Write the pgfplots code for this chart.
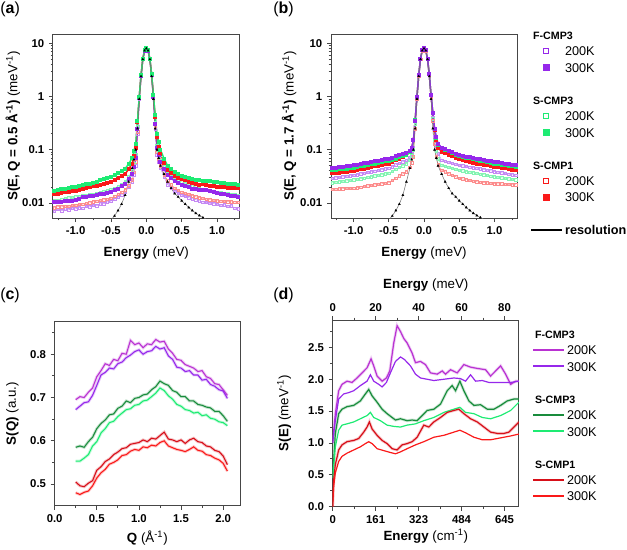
\documentclass[border=0pt]{standalone}
\usepackage{pgfplots}
\pgfplotsset{compat=1.18}
\usepackage{pgfplotstable}
\usepackage{fontspec}
\setmainfont{Liberation Sans}

\definecolor{fpur}{RGB}{150,40,235}
\definecolor{fmag}{RGB}{185,50,210}
\definecolor{sgrn}{RGB}{30,235,115}
\definecolor{sgrnD}{RGB}{25,140,60}
\definecolor{sred}{RGB}{250,25,25}
\definecolor{sredD}{RGB}{215,15,25}
\definecolor{axgray}{RGB}{70,70,70}

\pgfkeys{/pgf/number format/assume math mode=true}
\newcommand{\hd}[1]{\hspace*{-24pt}{\fontsize{8}{12.4}\selectfont\textbf{#1}}\strut}

\pgfplotsset{
  panel/.style={
    scale only axis,
    axis line style={draw=axgray, line width=0.75pt},
    tick align=outside,
    xtick pos=bottom, ytick pos=left,
    tick style={axgray, line width=0.6pt},
    major tick length=3pt, minor tick length=1.8pt,
    tick label style={font=\fontsize{8.5}{10}\selectfont\bfseries},
    label style={font=\fontsize{12}{14}\selectfont},
    every axis y label/.style={at={(axis description cs:-0.22,0.5)}, rotate=90, anchor=center},
    every axis x label/.style={at={(axis description cs:0.5,-0.19)}, anchor=center},
  },
  sqleg/.style={legend image code/.code={\draw[mark repeat=2,mark phase=2,##1] plot coordinates {(0pt,0pt) (11pt,0pt) (22pt,0pt)};}},
  lnleg/.style={legend image code/.code={\draw[##1] (0pt,0pt) -- (23pt,0pt);}},
  legsty/.style={legend cell align=left,
    legend style={draw=none, fill=none, anchor=north west, row sep=2pt, inner sep=0pt,
      font=\fontsize{9.5}{12.4}\selectfont, nodes={inner ysep=0pt, inner xsep=1.5pt, anchor=west}}},
  opn/.style={mark=square, mark size=0.95pt, line width=0.35pt},
  fil/.style={mark=square*, mark size=0.95pt, line width=1.1pt},
}

\pgfplotstableread{
E f2 f3 g2 g3 r2 r3
-1.30 0.0070 0.0102 0.0110 0.0170 0.0082 0.0145
-1.25 0.0076 0.0104 0.0113 0.0175 0.0085 0.0150
-1.20 0.0071 0.0106 0.0118 0.0180 0.0084 0.0155
-1.15 0.0077 0.0107 0.0121 0.0186 0.0087 0.0160
-1.10 0.0074 0.0108 0.0124 0.0190 0.0086 0.0163
-1.05 0.0080 0.0110 0.0127 0.0195 0.0090 0.0167
-1.00 0.0077 0.0112 0.0130 0.0200 0.0090 0.0170
-0.95 0.0082 0.0118 0.0133 0.0207 0.0094 0.0176
-0.90 0.0080 0.0130 0.0137 0.0215 0.0095 0.0182
-0.85 0.0086 0.0128 0.0140 0.0222 0.0099 0.0190
-0.80 0.0084 0.0132 0.0143 0.0230 0.0100 0.0197
-0.75 0.0090 0.0135 0.0147 0.0240 0.0105 0.0204
-0.70 0.0089 0.0140 0.0150 0.0250 0.0108 0.0210
-0.65 0.0096 0.0145 0.0156 0.0265 0.0112 0.0220
-0.60 0.0097 0.0150 0.0162 0.0280 0.0114 0.0230
-0.55 0.0105 0.0155 0.0168 0.0295 0.0118 0.0240
-0.50 0.0108 0.0162 0.0175 0.0310 0.0122 0.0250
-0.45 0.0118 0.0172 0.0190 0.0335 0.0133 0.0270
-0.40 0.0128 0.0185 0.0205 0.0360 0.0145 0.0290
-0.35 0.0142 0.0205 0.0225 0.0395 0.0158 0.0315
-0.30 0.0160 0.0230 0.0250 0.0440 0.0175 0.0350
-0.25 0.0198 0.0280 0.0310 0.0540 0.0210 0.0430
-0.20 0.0250 0.0350 0.0400 0.0700 0.0270 0.0550
-0.175 0.034 0.047 0.055 0.095 0.038 0.075
-0.15 0.050 0.070 0.080 0.130 0.060 0.110
-0.125 0.20 0.25 0.27 0.35 0.22 0.33
-0.10 0.92 0.95 0.95 1.0 0.93 0.98
-0.075 2.4 2.4 2.4 2.5 2.4 2.5
-0.05 5.0 5.0 5.0 5.1 5.0 5.1
-0.025 7.3 7.3 7.3 7.4 7.3 7.4
0 8.0 8.0 8.0 8.1 8.0 8.1
0.025 7.3 7.3 7.3 7.4 7.3 7.4
0.05 5.0 5.0 5.0 5.1 5.0 5.1
0.075 2.5 2.5 2.5 2.6 2.5 2.6
0.10 1.0 1.0 1.0 1.05 1.0 1.05
0.125 0.25 0.30 0.32 0.45 0.28 0.42
0.15 0.080 0.110 0.120 0.200 0.090 0.170
0.175 0.060 0.080 0.090 0.140 0.066 0.115
0.20 0.045 0.060 0.070 0.100 0.050 0.085
0.25 0.031 0.043 0.048 0.068 0.034 0.057
0.30 0.022 0.034 0.035 0.050 0.026 0.042
0.35 0.019 0.029 0.031 0.043 0.022 0.036
0.40 0.0165 0.026 0.028 0.038 0.019 0.032
0.45 0.0152 0.024 0.026 0.035 0.0172 0.030
0.50 0.0140 0.022 0.025 0.032 0.0160 0.028
0.55 0.0133 0.0205 0.0235 0.0305 0.0152 0.0265
0.60 0.0125 0.0195 0.0222 0.0293 0.0145 0.0250
0.65 0.0120 0.0185 0.0210 0.0283 0.0138 0.0238
0.70 0.0115 0.0180 0.0200 0.0272 0.0130 0.0225
0.75 0.0110 0.0172 0.0190 0.0265 0.0126 0.0220
0.80 0.0104 0.0175 0.0182 0.0260 0.0122 0.0225
0.85 0.0102 0.0178 0.0175 0.0256 0.0118 0.0218
0.90 0.0098 0.0165 0.0170 0.0253 0.0115 0.0210
0.95 0.0097 0.0158 0.0165 0.0250 0.0112 0.0205
1.00 0.0095 0.0155 0.0160 0.0248 0.0110 0.0200
1.05 0.0090 0.0150 0.0155 0.0240 0.0108 0.0198
1.10 0.0093 0.0145 0.0152 0.0235 0.0107 0.0196
1.15 0.0086 0.0140 0.0148 0.0230 0.0106 0.0194
1.20 0.0089 0.0137 0.0145 0.0226 0.0105 0.0192
1.25 0.0080 0.0133 0.0142 0.0223 0.0104 0.0191
1.30 0.0078 0.0130 0.0140 0.0220 0.0103 0.0190
}\tabA

\pgfplotstableread{
E f2 f3 g2 g3 r2 r3
-1.30 0.0290 0.0450 0.0240 0.0410 0.0180 0.0360
-1.25 0.0296 0.0459 0.0245 0.0418 0.0182 0.0366
-1.20 0.0303 0.0469 0.0250 0.0426 0.0183 0.0373
-1.15 0.0309 0.0479 0.0255 0.0434 0.0185 0.0380
-1.10 0.0316 0.0489 0.0260 0.0443 0.0187 0.0386
-1.05 0.0323 0.0499 0.0265 0.0451 0.0188 0.0393
-1.00 0.0330 0.0510 0.0270 0.0460 0.0190 0.0400
-0.95 0.0340 0.0525 0.0278 0.0474 0.0194 0.0413
-0.90 0.0351 0.0540 0.0286 0.0488 0.0199 0.0426
-0.85 0.0362 0.0556 0.0294 0.0503 0.0204 0.0440
-0.80 0.0374 0.0572 0.0303 0.0518 0.0208 0.0454
-0.75 0.0385 0.0589 0.0312 0.0534 0.0213 0.0469
-0.70 0.0398 0.0606 0.0321 0.0550 0.0218 0.0484
-0.65 0.0410 0.0624 0.0330 0.0567 0.0224 0.0500
-0.60 0.0423 0.0642 0.0340 0.0584 0.0229 0.0516
-0.55 0.0436 0.0661 0.0350 0.0602 0.0234 0.0533
-0.50 0.0450 0.0680 0.0360 0.0620 0.0240 0.0550
-0.45 0.0483 0.0713 0.0392 0.0651 0.0265 0.0591
-0.40 0.0518 0.0747 0.0427 0.0683 0.0292 0.0636
-0.35 0.0556 0.0783 0.0464 0.0717 0.0321 0.0684
-0.30 0.0597 0.0821 0.0505 0.0753 0.0354 0.0735
-0.25 0.0640 0.0860 0.0550 0.0790 0.0390 0.0790
-0.20 0.072 0.095 0.063 0.089 0.047 0.092
-0.175 0.085 0.110 0.077 0.105 0.057 0.110
-0.15 0.110 0.150 0.100 0.150 0.074 0.150
-0.125 0.30 0.35 0.30 0.37 0.25 0.37
-0.10 0.95 1.0 0.95 1.0 0.92 1.0
-0.075 2.4 2.5 2.4 2.5 2.4 2.5
-0.05 5.0 5.1 5.0 5.1 5.0 5.1
-0.025 7.3 7.4 7.3 7.4 7.3 7.4
0 8.0 8.1 8.0 8.1 8.0 8.1
0.025 7.3 7.4 7.3 7.4 7.3 7.4
0.05 5.0 5.1 5.0 5.1 5.0 5.1
0.075 2.5 2.6 2.5 2.6 2.5 2.6
0.10 1.0 1.05 1.0 1.05 1.0 1.05
0.125 0.40 0.50 0.38 0.50 0.35 0.48
0.15 0.18 0.25 0.15 0.25 0.13 0.23
0.175 0.120 0.170 0.095 0.165 0.075 0.150
0.20 0.085 0.130 0.068 0.125 0.052 0.110
0.25 0.0640 0.1100 0.0510 0.1060 0.0410 0.0920
0.30 0.0612 0.1030 0.0488 0.0992 0.0383 0.0861
0.35 0.0584 0.0964 0.0467 0.0928 0.0357 0.0806
0.40 0.0558 0.0902 0.0447 0.0868 0.0333 0.0754
0.45 0.0534 0.0844 0.0428 0.0812 0.0311 0.0705
0.50 0.0510 0.0790 0.0410 0.0760 0.0290 0.0660
0.55 0.0497 0.0767 0.0399 0.0734 0.0282 0.0636
0.60 0.0485 0.0744 0.0389 0.0709 0.0273 0.0614
0.65 0.0473 0.0722 0.0379 0.0685 0.0265 0.0592
0.70 0.0461 0.0701 0.0370 0.0662 0.0258 0.0571
0.75 0.0450 0.0680 0.0360 0.0640 0.0250 0.0550
0.80 0.0437 0.0661 0.0349 0.0621 0.0246 0.0535
0.85 0.0425 0.0642 0.0339 0.0602 0.0242 0.0521
0.90 0.0413 0.0624 0.0329 0.0585 0.0238 0.0507
0.95 0.0401 0.0607 0.0320 0.0567 0.0234 0.0493
1.00 0.0390 0.0590 0.0310 0.0550 0.0230 0.0480
1.05 0.0379 0.0576 0.0303 0.0537 0.0228 0.0468
1.10 0.0369 0.0562 0.0296 0.0525 0.0227 0.0456
1.15 0.0359 0.0548 0.0289 0.0513 0.0225 0.0444
1.20 0.0349 0.0535 0.0283 0.0502 0.0223 0.0433
1.25 0.0339 0.0523 0.0276 0.0491 0.0222 0.0421
1.30 0.0330 0.0510 0.0270 0.0480 0.0220 0.0410
}\tabB

\pgfplotstableread{
E R
-0.50 0.0048
-0.45 0.0057
-0.40 0.0072
-0.35 0.0095
-0.30 0.0140
-0.25 0.0250
-0.20 0.045
-0.175 0.065
-0.15 0.10
-0.125 0.25
-0.10 0.9
-0.075 2.4
-0.05 5.0
-0.025 7.3
0 8.0
0.025 7.3
0.05 5.0
0.075 2.4
0.10 0.9
0.125 0.25
0.15 0.10
0.175 0.070
0.20 0.050
0.25 0.035
0.30 0.025
0.35 0.019
0.40 0.015
0.45 0.013
0.50 0.011
0.55 0.0095
0.60 0.0082
0.65 0.0072
0.70 0.0064
0.75 0.0058
0.80 0.0053
0.85 0.0049
}\tabR

\pgfplotstableread{
Q m2 v3 g2 g3 r2 r3
0.25 0.695 0.672 0.585 0.553 0.505 0.480
0.30 0.702 0.680 0.588 0.553 0.496 0.476
0.35 0.700 0.688 0.585 0.560 0.494 0.481
0.40 0.712 0.690 0.598 0.568 0.502 0.484
0.45 0.722 0.705 0.608 0.588 0.508 0.496
0.50 0.748 0.728 0.628 0.598 0.532 0.514
0.55 0.762 0.752 0.640 0.618 0.540 0.526
0.60 0.778 0.758 0.648 0.628 0.552 0.534
0.65 0.774 0.768 0.660 0.642 0.558 0.546
0.70 0.788 0.766 0.662 0.645 0.568 0.550
0.75 0.785 0.778 0.675 0.656 0.574 0.556
0.80 0.802 0.782 0.680 0.664 0.582 0.566
0.85 0.800 0.792 0.692 0.672 0.584 0.568
0.90 0.832 0.798 0.688 0.674 0.592 0.576
0.95 0.822 0.806 0.698 0.682 0.594 0.580
1.00 0.826 0.810 0.700 0.684 0.596 0.578
1.05 0.815 0.800 0.706 0.692 0.602 0.586
1.10 0.824 0.806 0.708 0.694 0.598 0.584
1.15 0.822 0.808 0.718 0.702 0.606 0.590
1.20 0.834 0.818 0.725 0.710 0.604 0.588
1.25 0.828 0.812 0.738 0.722 0.612 0.596
1.30 0.830 0.815 0.732 0.716 0.620 0.600
1.35 0.812 0.796 0.728 0.704 0.604 0.588
1.40 0.802 0.788 0.716 0.696 0.602 0.584
1.45 0.788 0.770 0.712 0.684 0.598 0.580
1.50 0.786 0.768 0.702 0.680 0.602 0.578
1.55 0.776 0.760 0.702 0.672 0.594 0.575
1.60 0.772 0.762 0.692 0.670 0.602 0.580
1.65 0.768 0.752 0.692 0.664 0.606 0.586
1.70 0.760 0.752 0.684 0.666 0.598 0.578
1.75 0.762 0.740 0.682 0.658 0.596 0.576
1.80 0.748 0.742 0.678 0.660 0.588 0.568
1.85 0.744 0.730 0.676 0.652 0.586 0.566
1.90 0.732 0.726 0.668 0.650 0.578 0.560
1.95 0.730 0.718 0.668 0.644 0.575 0.556
2.00 0.718 0.715 0.658 0.642 0.565 0.548
2.05 0.705 0.698 0.645 0.635 0.545 0.530
}\tabC

\pgfplotstableread{
x y
0 1.00
0.5 1.20
1.24 1.46
2.80 1.82
4.35 1.92
6.68 1.97
9.01 1.95
11.34 2.02
13.68 2.10
16.01 2.18
17.87 2.32
19.11 2.21
20.67 2.05
23.00 1.97
25.02 2.02
26.57 2.13
28.44 2.57
29.99 2.84
31.55 2.75
33.10 2.64
34.65 2.57
36.99 2.41
38.54 2.26
40.87 2.28
43.20 2.23
45.53 2.10
48.64 2.08
50.97 2.13
52.53 2.08
54.86 2.15
57.96 2.10
61.07 2.23
64.18 2.19
67.29 2.17
71.17 2.15
73.50 2.05
75.84 2.13
78.17 2.21
80.50 2.08
82.83 1.92
85.16 1.97
86.71 1.97
}\dFa

\pgfplotstableread{
x y
0 1.00
0.5 1.15
1.24 1.35
2.80 1.69
5.13 1.77
7.46 1.79
9.79 1.82
12.90 1.90
16.01 1.97
17.56 2.07
19.11 1.97
21.45 1.92
23.00 1.88
25.02 1.95
26.88 2.10
29.22 2.28
31.55 2.35
33.41 2.31
36.21 2.21
38.54 2.08
40.87 2.02
43.98 2.00
47.09 1.98
51.75 2.00
56.41 2.02
59.52 2.01
61.85 1.97
64.18 2.07
66.51 1.97
69.62 1.98
72.73 1.95
78.17 1.95
82.83 1.95
86.71 1.97
}\dFb

\pgfplotstableread{
x y
0 0.45
1.24 1.15
2.80 1.46
4.35 1.53
6.68 1.57
9.79 1.59
12.90 1.66
15.23 1.77
16.78 1.84
18.34 1.74
20.67 1.64
23.00 1.53
25.33 1.46
27.66 1.40
29.22 1.36
31.55 1.38
34.65 1.35
36.99 1.36
39.32 1.35
41.65 1.43
43.98 1.51
47.09 1.53
50.19 1.61
53.30 1.82
55.63 1.90
57.19 1.82
59.21 1.97
61.07 1.82
63.40 1.66
65.73 1.59
68.84 1.60
71.95 1.53
75.06 1.53
78.17 1.59
81.27 1.66
84.38 1.69
86.71 1.69
}\dSa

\pgfplotstableread{
x y
0 0.45
1.24 0.94
2.80 1.20
4.35 1.28
6.68 1.30
9.79 1.33
12.90 1.38
16.01 1.43
17.56 1.48
19.11 1.40
22.22 1.35
25.33 1.28
28.44 1.26
31.55 1.25
34.65 1.28
38.54 1.30
42.42 1.35
47.09 1.40
51.75 1.48
56.41 1.53
59.21 1.56
61.85 1.48
65.73 1.46
69.62 1.40
73.50 1.38
78.17 1.43
82.83 1.51
86.71 1.64
}\dSb

\pgfplotstableread{
x y
0 0.0
0.47 0.42
1.24 0.66
2.80 0.89
4.35 0.97
6.68 1.02
9.79 1.04
12.12 1.07
14.45 1.17
16.01 1.25
17.09 1.33
18.34 1.22
20.67 1.12
23.00 1.04
25.33 0.99
27.66 0.91
29.99 0.89
32.32 0.97
34.65 0.99
36.99 1.02
39.32 1.09
42.42 1.28
44.76 1.25
47.09 1.33
50.19 1.40
53.30 1.48
56.41 1.51
58.74 1.53
61.07 1.46
64.18 1.38
67.29 1.33
70.40 1.25
73.50 1.17
76.61 1.15
79.72 1.15
82.05 1.17
84.38 1.25
86.71 1.33
}\dRa

\pgfplotstableread{
x y
0 0.0
0.47 0.32
1.24 0.53
2.80 0.71
4.35 0.79
6.68 0.84
9.79 0.89
12.90 0.94
15.23 0.99
16.78 1.02
18.34 0.99
20.67 0.91
23.78 0.88
26.88 0.85
29.22 0.83
31.55 0.86
34.65 0.91
38.54 0.97
42.42 1.02
47.09 1.09
51.75 1.12
56.41 1.17
59.21 1.20
61.85 1.16
65.73 1.09
69.62 1.05
73.50 1.05
78.17 1.08
82.83 1.11
86.71 1.14
}\dRb

\begin{document}
\begin{tikzpicture}
\useasboundingbox (0,0) rectangle (470.25pt,-411.75pt);

\node[anchor=west, font=\fontsize{12}{14}\selectfont, inner sep=0pt] at (0pt,-7pt) {(\textbf{a})};
\node[anchor=west, font=\fontsize{12}{14}\selectfont, inner sep=0pt] at (204.75pt,-7pt) {(\textbf{b})};
\node[anchor=west, font=\fontsize{12}{14}\selectfont, inner sep=0pt] at (0pt,-221.25pt) {(\textbf{c})};
\node[anchor=west, font=\fontsize{12}{14}\selectfont, inner sep=0pt] at (204.75pt,-221.25pt) {(\textbf{d})};

% ---------- (a)
\begin{axis}[panel, at={(39.75pt,-25.5pt)}, anchor=north west,
  width=140pt, height=138pt,
  ymode=log, ymin=0.0052, ymax=15, xmin=-1.32, xmax=1.32,
  ytick={0.01,0.1,1,10}, yticklabels={0.01,0.1,1,10},
  xtick={-1,-0.5,0,0.5,1}, xticklabels={-1.0,-0.5,0.0,0.5,1.0},
  minor xtick={-1.25,-0.75,-0.25,0.25,0.75,1.25},
  xlabel={\textbf{Energy} (meV)},
  ylabel={\textbf{S(E, Q = 0.5 Å\textsuperscript{-1})} (meV\textsuperscript{-1})},
  ylabel style={at={(axis description cs:-0.215,0.5)}},
]
\addplot[fpur!55, opn, forget plot] table[x=E,y=f2]{\tabA};
\addplot[sred!50, opn, forget plot] table[x=E,y=r2]{\tabA};
\addplot[sgrn!55, opn, forget plot] table[x=E,y=g2]{\tabA};
\addplot[fpur, fil, forget plot] table[x=E,y=f3]{\tabA};
\addplot[sred, fil, forget plot] table[x=E,y=r3]{\tabA};
\addplot[sgrn, fil, forget plot] table[x=E,y=g3]{\tabA};
\addplot[black!55, line width=0.4pt, mark=triangle*, mark size=0.8pt, mark options={black}, forget plot] table[x=E,y=R]{\tabR};
\end{axis}

% ---------- (b)
\begin{axis}[panel, legsty, at={(248.25pt,-25.5pt)}, anchor=north west,
  width=139.5pt, height=138pt,
  ymode=log, ymin=0.0052, ymax=15, xmin=-1.32, xmax=1.32,
  ytick={0.01,0.1,1,10}, yticklabels={0.01,0.1,1,10},
  xtick={-1,-0.5,0,0.5,1}, xticklabels={-1.0,-0.5,0.0,0.5,1.0},
  minor xtick={-1.25,-0.75,-0.25,0.25,0.75,1.25},
  xlabel={\textbf{Energy} (meV)},
  ylabel={\textbf{S(E, Q = 1.7 Å\textsuperscript{-1})} (meV\textsuperscript{-1})},
  ylabel style={at={(axis description cs:-0.225,0.5)}},
  legend style={at={(axis description cs:1.07,1.034)}},
]
\addplot[fpur!55, opn, forget plot] table[x=E,y=f2]{\tabB};
\addplot[sgrn!55, opn, forget plot] table[x=E,y=g2]{\tabB};
\addplot[sred!50, opn, forget plot] table[x=E,y=r2]{\tabB};
\addplot[sred, fil, forget plot] table[x=E,y=r3]{\tabB};
\addplot[sgrn, fil, forget plot] table[x=E,y=g3]{\tabB};
\addplot[fpur, fil, forget plot] table[x=E,y=f3]{\tabB};
\addplot[black!55, line width=0.4pt, mark=triangle*, mark size=0.8pt, mark options={black}, forget plot] table[x=E,y=R]{\tabR};
\addlegendimage{empty legend}\addlegendentry{\hd{F-CMP3}}
\addlegendimage{sqleg, only marks, mark=square, mark size=2.1pt, line width=0.7pt, fpur}\addlegendentry{200K\strut}
\addlegendimage{sqleg, only marks, mark=square*, mark size=2.1pt, fpur}\addlegendentry{300K\strut}
\addlegendimage{empty legend}\addlegendentry{\strut}
\addlegendimage{empty legend}\addlegendentry{\hd{S-CMP3}}
\addlegendimage{sqleg, only marks, mark=square, mark size=2.1pt, line width=0.7pt, sgrn}\addlegendentry{200K\strut}
\addlegendimage{sqleg, only marks, mark=square*, mark size=2.1pt, sgrn}\addlegendentry{300K\strut}
\addlegendimage{empty legend}\addlegendentry{\strut}
\addlegendimage{empty legend}\addlegendentry{\hd{S-CMP1}}
\addlegendimage{sqleg, only marks, mark=square, mark size=2.1pt, line width=0.7pt, sred}\addlegendentry{200K\strut}
\addlegendimage{sqleg, only marks, mark=square*, mark size=2.1pt, sred}\addlegendentry{300K\strut}
\addlegendimage{empty legend}\addlegendentry{\strut}
\addlegendimage{lnleg, black, line width=1.6pt}\addlegendentry{\textbf{resolution}\strut}
\end{axis}

% ---------- (c)
\begin{axis}[panel, at={(41pt,-241.3pt)}, anchor=north west,
  width=139pt, height=138pt,
  xmin=0, xmax=2.2, ymin=0.45, ymax=0.875,
  xtick={0,0.5,1,1.5,2}, xticklabels={0.0,0.5,1.0,1.5,2.0},
  minor xtick={0.25,0.75,1.25,1.75},
  ytick={0.5,0.6,0.7,0.8}, yticklabels={0.5,0.6,0.7,0.8},
  minor ytick={0.55,0.65,0.75,0.85},
  xlabel={\textbf{Q} (Å\textsuperscript{-1})},
  ylabel={\textbf{S(Q)} (a.u.)},
  xlabel style={at={(axis description cs:0.5,-0.175)}},
  ylabel style={at={(axis description cs:-0.228,0.5)}},
]
\addplot[fmag, line width=2.2pt, opacity=0.25, forget plot] table[x=Q,y=m2]{\tabC};
\addplot[fpur, line width=2.2pt, opacity=0.25, forget plot] table[x=Q,y=v3]{\tabC};
\addplot[sgrnD, line width=2.2pt, opacity=0.25, forget plot] table[x=Q,y=g2]{\tabC};
\addplot[sgrn, line width=2.2pt, opacity=0.25, forget plot] table[x=Q,y=g3]{\tabC};
\addplot[sredD, line width=2.2pt, opacity=0.25, forget plot] table[x=Q,y=r2]{\tabC};
\addplot[sred, line width=2.2pt, opacity=0.25, forget plot] table[x=Q,y=r3]{\tabC};
\addplot[fmag, line width=0.8pt, forget plot] table[x=Q,y=m2]{\tabC};
\addplot[fpur, line width=0.8pt, forget plot] table[x=Q,y=v3]{\tabC};
\addplot[sgrnD, line width=0.8pt, forget plot] table[x=Q,y=g2]{\tabC};
\addplot[sgrn, line width=0.8pt, forget plot] table[x=Q,y=g3]{\tabC};
\addplot[sredD, line width=0.8pt, forget plot] table[x=Q,y=r2]{\tabC};
\addplot[sred, line width=0.8pt, forget plot] table[x=Q,y=r3]{\tabC};
\end{axis}

% ---------- (d) top axis
\begin{axis}[panel, at={(249.5pt,-240pt)}, anchor=north west,
  width=139.7pt, height=140pt,
  xmin=0, xmax=86.7, ymin=0, ymax=2.93,
  axis x line*=top, axis y line=none, xtick pos=top,
  xtick={0,20,40,60,80}, minor xtick={10,30,50,70},
  xlabel={\textbf{Energy} (meV)},
  xlabel style={at={(axis description cs:0.5,1.187)}},
]
\addplot[draw=none, forget plot] coordinates {(0,0)};
\end{axis}

% ---------- (d)
\begin{axis}[panel, legsty, at={(249.5pt,-240pt)}, anchor=north west,
  width=139.7pt, height=140pt,
  xmin=0, xmax=86.7, ymin=0, ymax=2.93,
  xtick={0,20,40,60,80}, xticklabels={0,161,323,484,645},
  minor xtick={10,30,50,70},
  ytick={0,0.5,1,1.5,2,2.5}, yticklabels={0.0,0.5,1.0,1.5,2.0,2.5},
  minor ytick={0.25,0.75,1.25,1.75,2.25,2.75},
  xlabel={\textbf{Energy} (cm\textsuperscript{-1})},
  ylabel={\textbf{S(E)} (meV\textsuperscript{-1})},
  xlabel style={at={(axis description cs:0.5,-0.158)}},
  ylabel style={at={(axis description cs:-0.26,0.5)}},
  legend style={at={(axis description cs:1.07,0.964)}},
]
\addplot[fmag, line width=2.2pt, opacity=0.22, forget plot] table{\dFa};
\addplot[sgrnD, line width=2.2pt, opacity=0.22, forget plot] table{\dSa};
\addplot[sredD, line width=2.2pt, opacity=0.22, forget plot] table{\dRa};
\addplot[fmag, line width=0.9pt, forget plot] table{\dFa};
\addplot[fpur, line width=0.9pt, forget plot] table{\dFb};
\addplot[sgrnD, line width=0.9pt, forget plot] table{\dSa};
\addplot[sgrn, line width=0.9pt, forget plot] table{\dSb};
\addplot[sredD, line width=0.9pt, forget plot] table{\dRa};
\addplot[sred, line width=0.9pt, forget plot] table{\dRb};
\addlegendimage{empty legend}\addlegendentry{\hd{F-CMP3}}
\addlegendimage{lnleg, fmag, line width=1.6pt}\addlegendentry{200K\strut}
\addlegendimage{lnleg, fpur, line width=1.6pt}\addlegendentry{300K\strut}
\addlegendimage{empty legend}\addlegendentry{\strut}
\addlegendimage{empty legend}\addlegendentry{\hd{S-CMP3}}
\addlegendimage{lnleg, sgrnD, line width=1.6pt}\addlegendentry{200K\strut}
\addlegendimage{lnleg, sgrn, line width=1.6pt}\addlegendentry{300K\strut}
\addlegendimage{empty legend}\addlegendentry{\strut}
\addlegendimage{empty legend}\addlegendentry{\hd{S-CMP1}}
\addlegendimage{lnleg, sredD, line width=1.6pt}\addlegendentry{200K\strut}
\addlegendimage{lnleg, sred, line width=1.6pt}\addlegendentry{300K\strut}
\end{axis}
\end{tikzpicture}
\end{document}
